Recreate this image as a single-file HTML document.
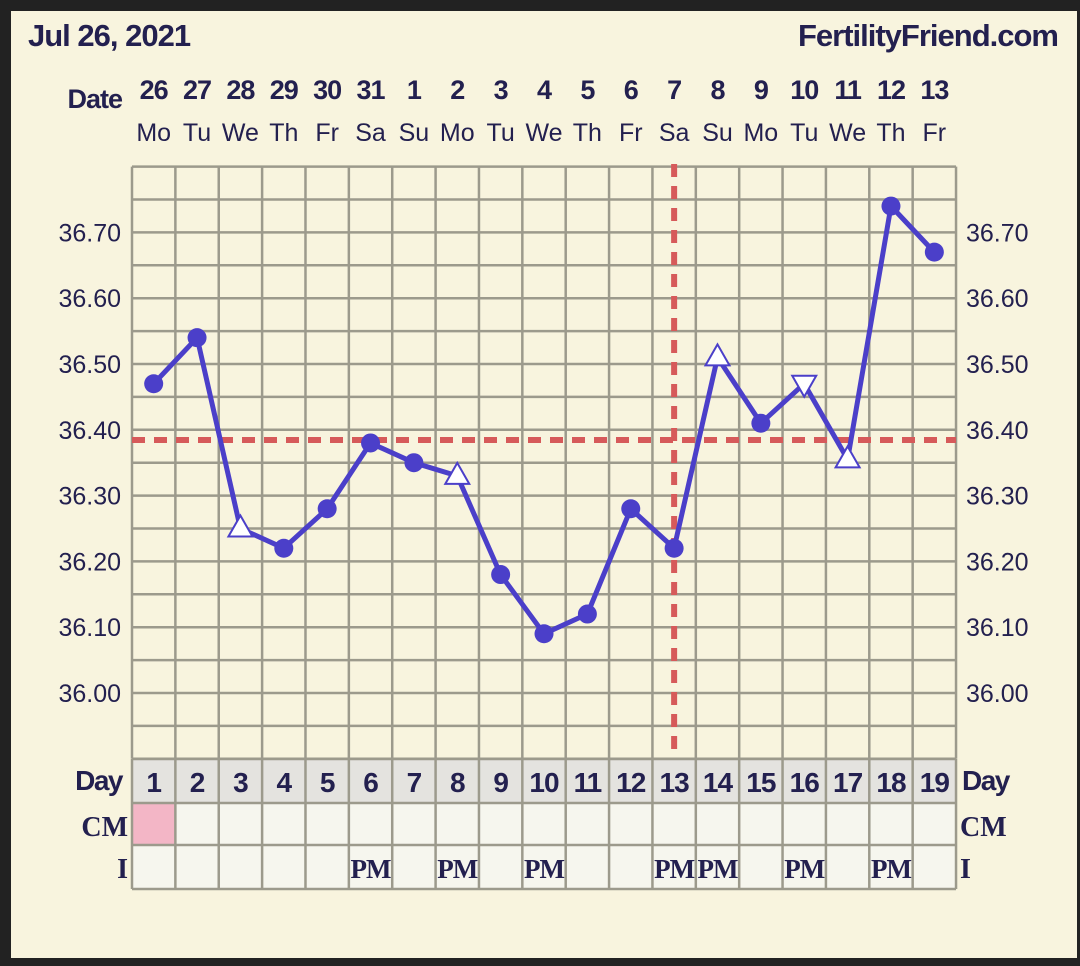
<!DOCTYPE html>
<html><head><style>
html,body{margin:0;padding:0;background:#222;}
svg{display:block;}
text{font-family:"Liberation Sans",sans-serif;fill:#23204f;}
text.s{font-family:"Liberation Serif",serif;}
</style></head><body>
<svg width="1080" height="966" viewBox="0 0 1080 966" xmlns="http://www.w3.org/2000/svg">
<rect x="0" y="0" width="1080" height="966" fill="#222"/>
<rect x="11" y="11" width="1066" height="947" fill="#f8f4de"/>
<text x="28" y="46" font-size="31" font-weight="bold" letter-spacing="-1">Jul 26, 2021</text>
<text x="1058" y="46" font-size="31" font-weight="bold" text-anchor="end" letter-spacing="-1">FertilityFriend.com</text>
<text x="122" y="108" font-size="27" font-weight="bold" text-anchor="end" letter-spacing="-1">Date</text>
<g id="g"></g>
<script>
(function(){
var ns="http://www.w3.org/2000/svg",g=document.getElementById('g');
function el(t,a,txt){var e=document.createElementNS(ns,t);for(var k in a)e.setAttribute(k,a[k]);if(txt!=null)e.textContent=txt;g.appendChild(e);return e;}
var x0=132,cw=43.37,N=19,x1=x0+cw*N;
function cx(i){return x0+cw*(i-0.5);}
function Y(v){return 693-(v-36)*658;}
var dates=["26","27","28","29","30","31","1","2","3","4","5","6","7","8","9","10","11","12","13"];
var dows=["Mo","Tu","We","Th","Fr","Sa","Su","Mo","Tu","We","Th","Fr","Sa","Su","Mo","Tu","We","Th","Fr"];
for(var i=1;i<=N;i++){
 el('text',{x:cx(i),y:99,'font-size':27,'font-weight':'bold','text-anchor':'middle','letter-spacing':'-1'},dates[i-1]);
 el('text',{x:cx(i),y:141,'font-size':25,'text-anchor':'middle'},dows[i-1]);
}
var top=Y(36.8),bot=Y(35.9);
for(var k=0;k<=18;k++){var y=Y(35.9+k*0.05);el('line',{x1:x0,x2:x1,y1:y,y2:y,stroke:'#9c9a8c','stroke-width':2.5});}
for(var i=0;i<=N;i++){var x=x0+cw*i;el('line',{x1:x,x2:x,y1:top,y2:bot,stroke:'#9c9a8c','stroke-width':2.5});}
for(var v=0;v<=7;v++){var val=(36+v*0.1).toFixed(2),y=Y(36+v*0.1)+9;
 el('text',{x:121,y:y,'font-size':25,'text-anchor':'end'},val);
 el('text',{x:966,y:y,'font-size':25},val);}
var rY=[759,803,845,889];
el('rect',{x:x0,y:rY[0],width:cw*N,height:44,fill:'#e4e3df'});
el('rect',{x:x0,y:rY[1],width:cw*N,height:86,fill:'#f6f6ee'});
el('rect',{x:x0,y:rY[1],width:cw,height:42,fill:'#f3b6c6'});
for(var r=0;r<4;r++)el('line',{x1:x0,x2:x1,y1:rY[r],y2:rY[r],stroke:'#9c9a8c','stroke-width':2.5});
for(var i=0;i<=N;i++){var x=x0+cw*i;el('line',{x1:x,x2:x,y1:rY[0],y2:rY[3],stroke:'#9c9a8c','stroke-width':2.5});}
for(var i=1;i<=N;i++)el('text',{x:cx(i),y:792,'font-size':28,'font-weight':'bold','text-anchor':'middle','letter-spacing':'-1'},String(i));
el('text',{x:122,y:790,'font-size':28,'font-weight':'bold','text-anchor':'end','letter-spacing':'-1.5'},'Day');
el('text',{x:962,y:790,'font-size':28,'font-weight':'bold','letter-spacing':'-1.5'},'Day');
el('text',{class:'s',x:128,y:836,'font-size':28,'font-weight':'bold','text-anchor':'end'},'CM');
el('text',{class:'s',x:960,y:836,'font-size':28,'font-weight':'bold'},'CM');
el('text',{class:'s',x:128,y:878,'font-size':28,'font-weight':'bold','text-anchor':'end'},'I');
el('text',{class:'s',x:960,y:878,'font-size':28,'font-weight':'bold'},'I');
[6,8,10,13,14,16,18].forEach(function(d){el('text',{class:'s',x:cx(d),y:878,'font-size':27,'font-weight':'bold','text-anchor':'middle','letter-spacing':'-1'},'PM');});
el('line',{x1:x0,x2:x1,y1:440,y2:440,stroke:'#d65a5a','stroke-width':6,'stroke-dasharray':'13 9'});
el('line',{x1:cx(13),x2:cx(13),y1:164,y2:758,stroke:'#d65a5a','stroke-width':6,'stroke-dasharray':'13 9'});
var d=[[36.47,'c'],[36.54,'c'],[36.25,'u'],[36.22,'c'],[36.28,'c'],[36.38,'c'],[36.35,'c'],[36.33,'u'],[36.18,'c'],[36.09,'c'],[36.12,'c'],[36.28,'c'],[36.22,'c'],[36.51,'u'],[36.41,'c'],[36.47,'d'],[36.355,'u'],[36.74,'c'],[36.67,'c']];
var pts=d.map(function(p,i){return cx(i+1).toFixed(1)+','+Y(p[0]).toFixed(1);}).join(' ');
var C='#4b3fc9';
el('polyline',{points:pts,fill:'none',stroke:C,'stroke-width':5,'stroke-linejoin':'round'});
d.forEach(function(p,i){var x=cx(i+1),y=Y(p[0]);
 if(p[1]=='c')el('circle',{cx:x,cy:y,r:9.5,fill:C});
 else if(p[1]=='u')el('polygon',{points:(x)+','+(y-13)+' '+(x-12)+','+(y+8)+' '+(x+12)+','+(y+8),fill:'#fff',stroke:C,'stroke-width':2});
 else el('polygon',{points:(x)+','+(y+13)+' '+(x-12)+','+(y-8)+' '+(x+12)+','+(y-8),fill:'#fff',stroke:C,'stroke-width':2});
});
})();
</script>
</svg>
</body></html>
